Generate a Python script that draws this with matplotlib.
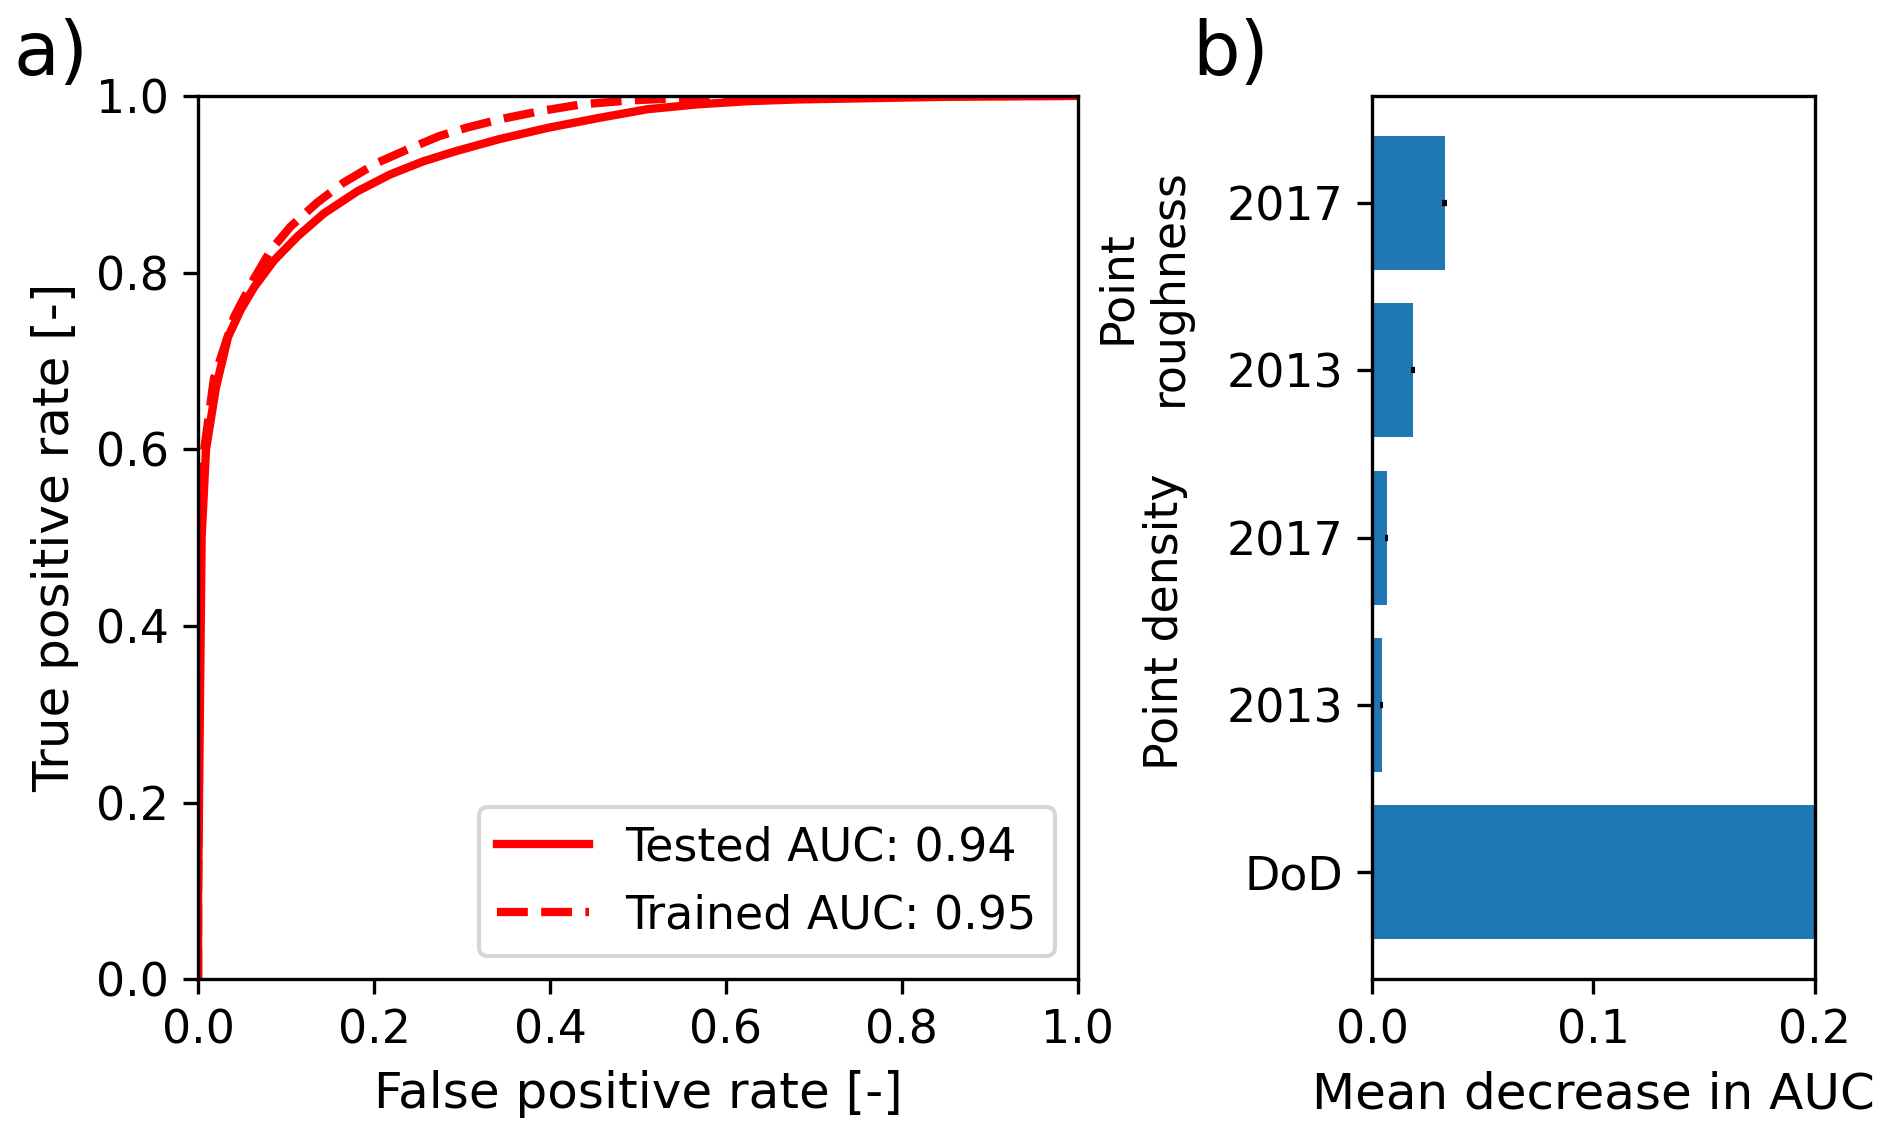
import matplotlib
matplotlib.use("Agg")
import matplotlib.pyplot as plt

# ROC curves
fpr_test = [0.0, 0.0, 0.002, 0.004, 0.009, 0.0203, 0.034, 0.0485, 0.064, 0.0865, 0.113,
            0.143, 0.181, 0.218, 0.256, 0.293, 0.342, 0.398, 0.455, 0.511, 0.568,
            0.624, 0.68, 0.737, 0.85, 1.0]
tpr_test = [0.0, 0.1, 0.3, 0.5, 0.6, 0.67, 0.727, 0.758, 0.784, 0.814, 0.841,
            0.867, 0.892, 0.911, 0.926, 0.9375, 0.951, 0.964, 0.975, 0.985, 0.9905,
            0.994, 0.996, 0.997, 0.999, 1.0]

fpr_train = [0.0, 0.0, 0.001, 0.003, 0.007, 0.018, 0.041, 0.064, 0.083, 0.105, 0.135,
             0.165, 0.203, 0.237, 0.274, 0.305, 0.345, 0.39, 0.436, 0.492, 0.549,
             0.58, 1.0]
tpr_train = [0.0, 0.1, 0.3, 0.5, 0.6, 0.68, 0.75, 0.794, 0.826, 0.852, 0.879,
             0.9016, 0.924, 0.939, 0.9545, 0.964, 0.974, 0.983, 0.9905, 0.995, 0.9975,
             1.0, 1.0]

auc_test = 0.94
auc_train = 0.95

# permutation importance
features = ["DoD", "2013", "2017", "2013", "2017"]
importance = [0.25, 0.0044, 0.0066, 0.0186, 0.0328]
importance_err = [0.001, 0.0006, 0.0008, 0.0008, 0.001]
groups = ["Point density", "Point\nroughness"]

fig = plt.figure(figsize=(1892 / 300, 1142 / 300), dpi=300)

ax1 = fig.add_axes([0.1047, 0.1424, 0.465, 0.7736])
ax1.plot(fpr_test, tpr_test, color="red", lw=2, label=f"Tested AUC: {auc_test}")
ax1.plot(fpr_train, tpr_train, color="red", lw=2, ls="--", label=f"Trained AUC: {auc_train}")
ax1.set_xlim(0, 1)
ax1.set_ylim(0, 1)
ax1.set_xlabel("False positive rate [-]", fontsize=12)
ax1.set_ylabel("True positive rate [-]", fontsize=12)
ax1.tick_params(labelsize=11)
ax1.legend(loc="lower right", fontsize=11)

ax2 = fig.add_axes([0.7252, 0.1424, 0.234, 0.7736])
ypos = list(range(len(features)))
ax2.barh(ypos, importance, xerr=importance_err, color="C0", ecolor="black")
ax2.set_yticks(ypos)
ax2.set_yticklabels(features)
ax2.set_xlim(0, 0.2)
ax2.set_xticks([0.0, 0.1, 0.2])
ax2.set_xlabel("Mean decrease in AUC", fontsize=12)
ax2.tick_params(labelsize=11)
# group labels next to the year ticks
tr = ax2.get_yaxis_transform()
ax2.text(-0.467, 1.5, groups[0], transform=tr, rotation=90, ha="center", va="center", fontsize=11)
ax2.text(-0.516, 3.5, groups[1], transform=tr, rotation=90, ha="center", va="center", fontsize=11)

fig.text(0.007, 0.934, "a)", fontsize=18)
fig.text(0.630, 0.934, "b)", fontsize=18)

fig.savefig("out.png", dpi=300)
